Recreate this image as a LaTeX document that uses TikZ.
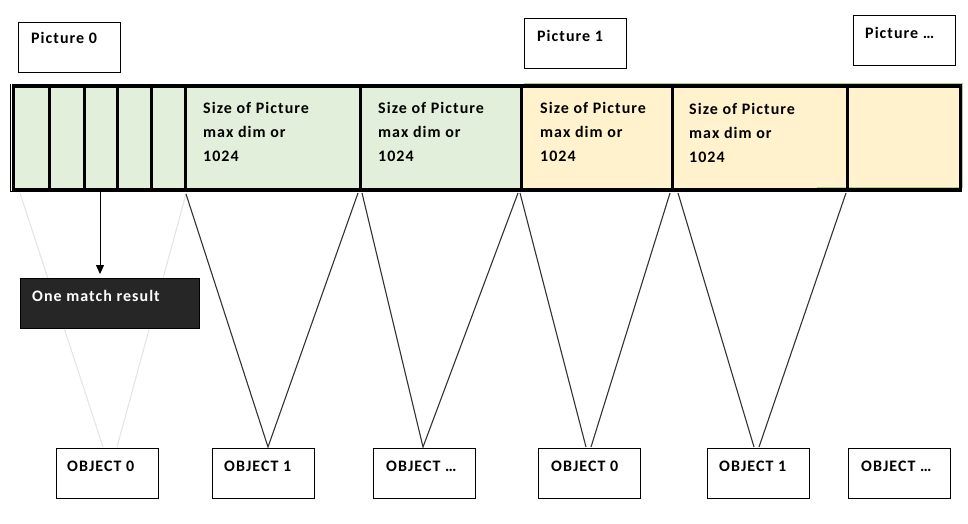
\documentclass[tikz,border=0pt]{standalone}
\usepackage{fontspec}
\setmainfont{Carlito}
\newfontfamily\lblfont[LetterSpace=6.5]{Carlito}
\usetikzlibrary{arrows.meta}
\definecolor{cgreen}{HTML}{E2EFDA}
\definecolor{cyellow}{HTML}{FFF2CC}
\definecolor{gline}{HTML}{A9D18E}
\definecolor{darkbox}{HTML}{262626}
\definecolor{conn}{HTML}{333333}
\definecolor{faint}{HTML}{E4E4E4}
\begin{document}
\begin{tikzpicture}[x=1pt,y=-1pt,
  txt/.style={anchor=base west, inner sep=0, align=left, font=\lblfont\fontsize{16}{24}\selectfont\bfseries},
  wbox/.style={draw=black, line width=1.1pt, fill=white, anchor=north west, inner sep=0, minimum width=102pt, minimum height=50pt},
  conline/.style={draw=conn, line width=1.1pt},
  faintline/.style={draw=faint, line width=1pt},
  divider/.style={line width=3pt}
]
\useasboundingbox (0,0) rectangle (968,523);
\fill[white] (0,0) rectangle (968,523);

% connector end points
\coordinate (b0) at (20,193);
\coordinate (b1) at (186,194);
\coordinate (b2) at (358,193);
\coordinate (b3) at (362,193);
\coordinate (b4) at (518,193);
\coordinate (b5) at (520,193);
\coordinate (b6) at (670,193);
\coordinate (b7) at (678,193);
\coordinate (b8) at (846,193);
\coordinate (m0a) at (103,447);
\coordinate (m0b) at (117,447);
\coordinate (m1) at (268,447);
\coordinate (m2) at (423,447);
\coordinate (m3a) at (586,447);
\coordinate (m3b) at (591,447);
\coordinate (m4a) at (754,447);
\coordinate (m4b) at (759,447);

\draw[faintline] (b0) -- (m0a);
\draw[faintline] (b1) -- (m0b);

% top picture labels
\node[wbox] (pic0) at (17.5,21.5) {};
\node[txt] (pic0t) at (31,43.3) {Picture 0};
\node[wbox] (pic1) at (524,18) {};
\node[txt] (pic1t) at (537,41) {Picture 1};
\node[wbox] (picn) at (853,15) {};
\node[txt] (picnt) at (865,38) {Picture …};

% bar
\fill[cgreen] (13,86) rectangle (521,190);
\fill[cyellow] (521,86) rectangle (961,190);
\draw[gline, line width=1.5pt] (524,84) -- (962.5,84) -- (962.5,187.5) -- (817,187.5);
\draw[line width=3.5pt] (13.5,86) rectangle (960.5,190);
\draw[line width=1pt] (10.5,84.3) -- (10.5,191.5) -- (13.5,191.5);
\foreach \x in {49,84,117,151,185,360,521,672,847}
  \draw[divider] (\x,86) -- (\x,190);

% cell texts (anchor at baseline of last line)
\node[txt] (c1) at (203,161) {Size of Picture\\max dim or\\1024};
\node[txt] (c2) at (378,161) {Size of Picture\\max dim or\\1024};
\node[txt] (c3) at (540,161) {Size of Picture\\max dim or\\1024};
\node[txt] (c4) at (689,162) {Size of Picture\\max dim or\\1024};

% match result
\node[draw=black, line width=1pt, fill=darkbox, anchor=north west, inner sep=0, minimum width=179pt, minimum height=50pt] (match) at (20,278) {};
\node[txt, text=white] (matcht) at (32,301.5) {One match result};
\coordinate (arrS) at (100,192);
\draw[line width=1pt, -{Triangle[length=9pt,width=8pt]}, shorten >=4pt] (arrS) -- (arrS |- match.north);

% objects
\node[wbox] (o0) at (55.7,448.3) {};
\node[txt] (o0t) at (67,471.7) {OBJECT 0};
\node[wbox] (o1) at (212.3,448.3) {};
\node[txt] (o1t) at (224,471.7) {OBJECT 1};
\node[wbox] (o2) at (373,448.3) {};
\node[txt] (o2t) at (386,471.7) {OBJECT …};
\node[wbox] (o3) at (538,448.3) {};
\node[txt] (o3t) at (551,471.7) {OBJECT 0};
\node[wbox] (o4) at (706.5,448.3) {};
\node[txt] (o4t) at (719,471.7) {OBJECT 1};
\node[wbox] (o5) at (848,448.3) {};
\node[txt] (o5t) at (861,471.7) {OBJECT …};

\draw[conline] (b1) -- (m1) -- (b2);
\draw[conline] (b3) -- (m2) -- (b4);
\draw[conline] (b5) -- (m3a);
\draw[conline] (b6) -- (m3b);
\draw[conline] (b7) -- (m4a);
\draw[conline] (b8) -- (m4b);
\end{tikzpicture}
\end{document}
